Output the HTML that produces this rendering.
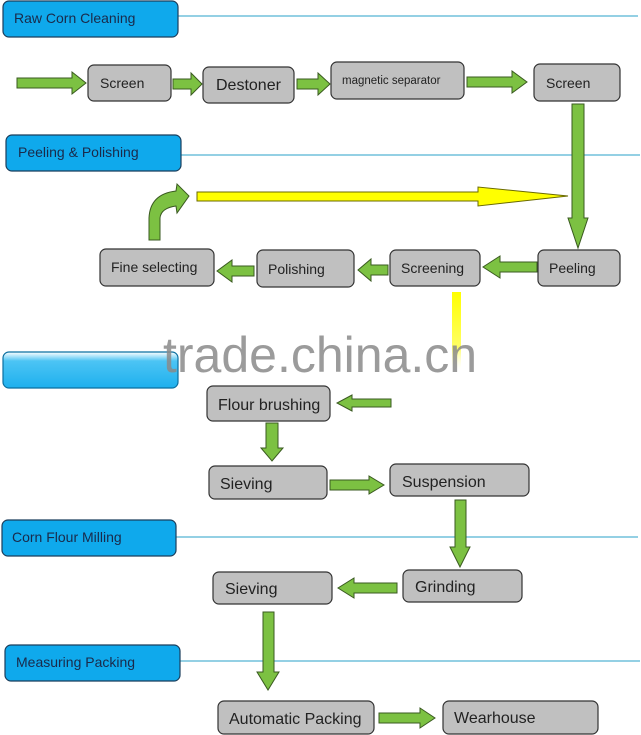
<!DOCTYPE html>
<html><head><meta charset="utf-8"><style>
html,body{margin:0;padding:0;background:#fff;width:641px;height:735px;overflow:hidden}
svg{display:block}
.h{font-family:"Liberation Sans",sans-serif;font-size:14px;fill:#1a2a4a}
.b{font-family:"Liberation Sans",sans-serif;fill:#222}
</style></head><body>
<svg width="641" height="735" viewBox="0 0 641 735" xmlns="http://www.w3.org/2000/svg">
<defs>
<linearGradient id="yg" x1="0" y1="0" x2="0" y2="1"><stop offset="0" stop-color="#ffff00"/><stop offset="0.7" stop-color="#ffff66"/><stop offset="1" stop-color="#fff" stop-opacity="0"/></linearGradient>
<linearGradient id="bg3" x1="0" y1="0" x2="0" y2="1"><stop offset="0" stop-color="#fff"/><stop offset="0.25" stop-color="#4cc4f4"/><stop offset="1" stop-color="#1eb0ee"/></linearGradient>
</defs>
<g stroke="#2aa0c8" stroke-width="1">
<line x1="178" y1="16" x2="638" y2="16"/><line x1="181" y1="155" x2="640" y2="155"/>
<line x1="176" y1="537" x2="638" y2="537"/><line x1="180" y1="661" x2="640" y2="661"/>
</g>
<g stroke="#1b3e5c" stroke-width="1.2">
<rect x="3" y="1" width="175" height="36" rx="6" fill="#0fa9ec"/>
<rect x="6" y="135" width="175" height="36" rx="6" fill="#0fa9ec"/>
<rect x="3" y="352" width="175" height="36" rx="6" fill="url(#bg3)" stroke="#0a6fa0"/>
<rect x="2" y="520" width="174" height="36" rx="6" fill="#0fa9ec"/>
<rect x="5" y="645" width="175" height="36" rx="6" fill="#0fa9ec"/>
</g>
<text class="h" x="14" y="23">Raw Corn Cleaning</text>
<text class="h" x="18" y="157">Peeling &amp; Polishing</text>
<text class="h" x="12" y="542">Corn Flour Milling</text>
<text class="h" x="16" y="667">Measuring Packing</text>
<g fill="#c0c0c0" stroke="#333" stroke-width="1.2">
<rect x="88" y="65" width="83" height="36" rx="6"/>
<rect x="203" y="67" width="91" height="36" rx="6"/>
<rect x="331" y="62" width="133" height="37" rx="6"/>
<rect x="534" y="64" width="86" height="37" rx="6"/>
<rect x="538" y="250" width="82" height="36" rx="6"/>
<rect x="390" y="250" width="90" height="36" rx="6"/>
<rect x="257" y="250" width="97" height="37" rx="6"/>
<rect x="100" y="249" width="114" height="37" rx="6"/>
<rect x="207" y="386" width="123" height="35" rx="6"/>
<rect x="209" y="466" width="118" height="33" rx="6"/>
<rect x="390" y="464" width="139" height="32" rx="6"/>
<rect x="403" y="570" width="119" height="32" rx="6"/>
<rect x="213" y="572" width="119" height="32" rx="6"/>
<rect x="218" y="701" width="156" height="33" rx="6"/>
<rect x="443" y="701" width="155" height="33" rx="6"/>
</g>
<text class="b" x="100" y="88" style="font-size:14px">Screen</text>
<text class="b" x="216" y="90" style="font-size:16px">Destoner</text>
<text class="b" x="342" y="84" style="font-size:11.5px">magnetic separator</text>
<text class="b" x="546" y="88" style="font-size:14px">Screen</text>
<text class="b" x="549" y="273" style="font-size:14px">Peeling</text>
<text class="b" x="401" y="273" style="font-size:14px">Screening</text>
<text class="b" x="268" y="274" style="font-size:14px">Polishing</text>
<text class="b" x="111" y="272" style="font-size:14px">Fine selecting</text>
<text class="b" x="218" y="410" style="font-size:16px">Flour brushing</text>
<text class="b" x="220" y="489" style="font-size:16px">Sieving</text>
<text class="b" x="402" y="487" style="font-size:16px">Suspension</text>
<text class="b" x="415" y="592" style="font-size:16px">Grinding</text>
<text class="b" x="225" y="594" style="font-size:16px">Sieving</text>
<text class="b" x="229" y="724" style="font-size:16px">Automatic Packing</text>
<text class="b" x="454" y="723" style="font-size:16px">Wearhouse</text>
<g fill="#7cc142" stroke="#3a5a20" stroke-width="1">
<polygon points="17,78 72,78 72,72 86,83 72,94 72,88 17,88"/>
<polygon points="173,79 191,79 191,73 202,84 191,95 191,89 173,89"/>
<polygon points="297,79 318,79 318,73 330,84 318,95 318,89 297,89"/>
<polygon points="467,77 512,77 512,71 527,82 512,93 512,87 467,87"/>
<polygon points="572,104 584,104 584,218 588,218 578,248 568,218 572,218"/>
<polygon points="537,262 500,262 500,256 483,267 500,278 500,272 537,272"/>
<polygon points="388,265 371,265 371,259 358,270 371,281 371,275 388,275"/>
<polygon points="254,266 232,266 232,260 217,271 232,282 232,276 254,276"/>
<path d="M149,240 L160,240 L160,218 Q161,208 176,206 L177,213 L189,196 L177,184 L176,191 Q150,194 149,218 Z"/>
<polygon points="391,399 352,399 352,395 337,403 352,411 352,407 391,407"/>
<polygon points="266,423 278,423 278,448 283,448 272,461 261,448 266,448"/>
<polygon points="330,480 369,480 369,476 384,485 369,494 369,490 330,490"/>
<polygon points="455,500 466,500 466,547 470,547 460,567 450,547 455,547"/>
<polygon points="397,583 354,583 354,578 338,588 354,598 354,593 397,593"/>
<polygon points="263,612 274,612 274,672 279,672 268,690 257,672 263,672"/>
<polygon points="379,713 420,713 420,708 435,718 420,728 420,723 379,723"/>
</g>
<polygon points="197,192 478,192 478,187 568,196 478,206 478,201 197,201" fill="#ffff00" stroke="#6a6a00" stroke-width="1"/>
<rect x="452" y="292" width="9" height="80" fill="url(#yg)"/>
<text x="163" y="372" font-family="Liberation Sans,sans-serif" font-size="50" fill="#8a8a8a" fill-opacity="0.85">trade.china.cn</text>
</svg>
</body></html>
